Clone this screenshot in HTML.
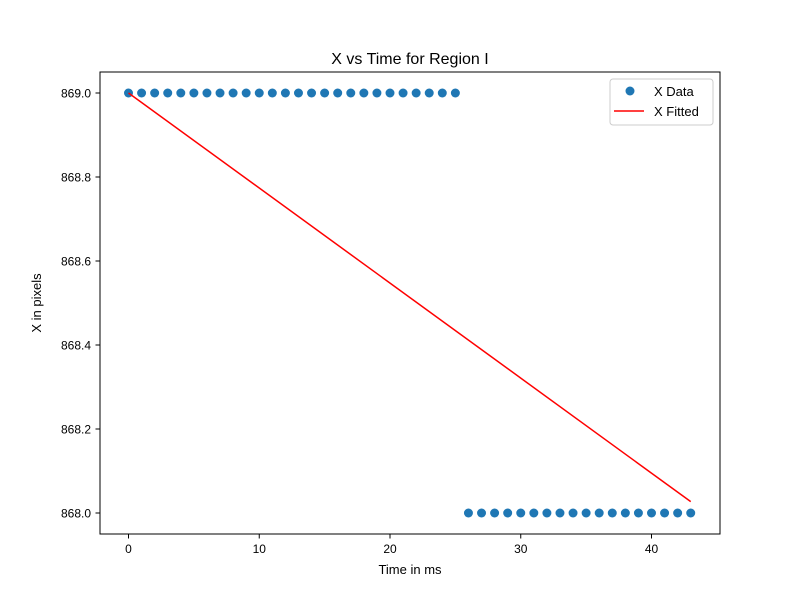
<!DOCTYPE html>
<html><head><meta charset="utf-8"><style>body{margin:0;background:#fff}svg{font-family:"Liberation Sans","DejaVu Sans",sans-serif}</style></head>
<body>
<svg id="chart" width="800" height="600" xmlns="http://www.w3.org/2000/svg">
<rect width="800" height="600" fill="#fff"/>
<text x="410" y="64" text-anchor="middle" font-size="16">X vs Time for Region I</text>
<g id="plot"></g>
<rect x="100" y="72" width="620" height="462" fill="none" stroke="#000" stroke-width="1"/>
<text x="410" y="574" text-anchor="middle" font-size="13">Time in ms</text>
<text x="41" y="303" text-anchor="middle" font-size="13" transform="rotate(-90 41 303)">X in pixels</text>
<g>
<rect x="610" y="79" width="103" height="46" rx="3" fill="#fff" stroke="#ccc"/>
<circle cx="630" cy="91" r="4.5" fill="#1f77b4"/>
<text x="654" y="96" font-size="13">X Data</text>
<line x1="614" y1="111" x2="644" y2="111" stroke="red" stroke-width="1.5"/>
<text x="654" y="116" font-size="13">X Fitted</text>
</g>
</svg>
<script>
const times=[0,1,2,3,4,5,6,7,8,9,10,11,12,13,14,15,16,17,18,19,20,21,22,23,24,25,26,27,28,29,30,31,32,33,34,35,36,37,38,39,40,41,42,43];
const xData=[869,869,869,869,869,869,869,869,869,869,869,869,869,869,869,869,869,869,869,869,869,869,869,869,869,869,868,868,868,868,868,868,868,868,868,868,868,868,868,868,868,868,868,868];
const fitT=[0,43];
const fitX=[869.0,868.027];
const xTicks=[0,10,20,30,40];
const yTicks=[868.0,868.2,868.4,868.6,868.8,869.0];
const NS="http://www.w3.org/2000/svg";
const sx=t=>128.5+t*(651.5-128.5)/40;
const sy=v=>513-(v-868)*420;
const g=document.getElementById('plot');
function mk(tag,a){const e=document.createElementNS(NS,tag);for(const k in a)e.setAttribute(k,a[k]);g.appendChild(e);return e;}
xTicks.forEach(t=>{
 const l=mk('line',{x1:sx(t),x2:sx(t),y1:534,y2:538.5,stroke:'#000'});
 
 
 const tx=mk('text',{x:sx(t),y:553,'text-anchor':'middle','font-size':12});
 
 
 tx.textContent=t;
});
yTicks.forEach(v=>{
 const l=mk('line',{x1:95.5,x2:100,y1:sy(v),y2:sy(v),stroke:'#000'});
 
 
 const tx=mk('text',{x:91,y:sy(v)+4.5,'text-anchor':'end','font-size':12});
 
 
 tx.textContent=v.toFixed(1);
});
times.forEach((t,i)=>{
 const c=mk('circle',{cx:sx(t),cy:sy(xData[i]),r:4.5,fill:'#1f77b4'});
 
 
});
const fl=mk('polyline',{points:fitT.map((t,i)=>sx(t)+','+sy(fitX[i])).join(' '),fill:'none',stroke:'red','stroke-width':1.5});


</script>
</body></html>
